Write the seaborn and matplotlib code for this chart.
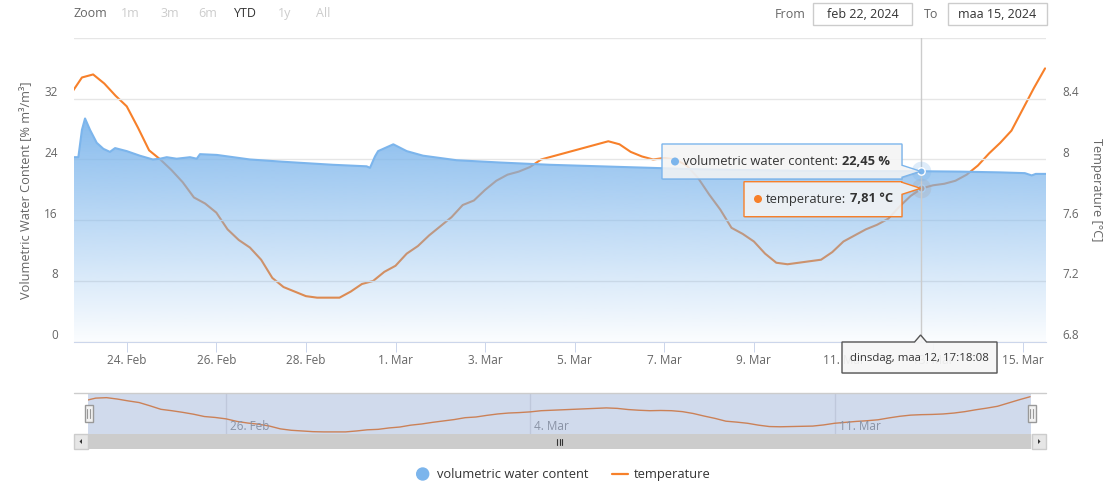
import numpy as np
import pandas as pd
import matplotlib
matplotlib.use("Agg")
import matplotlib.pyplot as plt
import matplotlib.dates as mdates
from matplotlib.patches import Rectangle, Polygon, Circle
from matplotlib.transforms import offset_copy
from matplotlib.colors import to_rgb
import seaborn as sns

# ---- data ----
# temperature, every 6 hours from 2024-02-22 18:00
temp_start = "2024-02-22 18:00"
temp_values = [
    8.43,
    8.54, 8.56, 8.50, 8.42,   # feb 23
    8.35, 8.21, 8.06, 8.00,   # feb 24
    7.93, 7.85, 7.75, 7.71,   # feb 25
    7.65, 7.54, 7.47, 7.42,   # feb 26
    7.34, 7.22, 7.16, 7.13,   # feb 27
    7.10, 7.09, 7.09, 7.09,   # feb 28
    7.13, 7.18, 7.20, 7.26,   # feb 29
    7.30, 7.38, 7.43, 7.50,   # mar 1
    7.56, 7.62, 7.70, 7.73,   # mar 2
    7.80, 7.86, 7.90, 7.92,   # mar 3
    7.95, 8.00, 8.02, 8.04,   # mar 4
    8.06, 8.08, 8.10, 8.12,   # mar 5
    8.10, 8.05, 8.02, 8.00,   # mar 6
    8.01, 8.00, 7.96, 7.88,   # mar 7
    7.77, 7.67, 7.55, 7.51,   # mar 8
    7.46, 7.38, 7.32, 7.31,   # mar 9
    7.32, 7.33, 7.34, 7.39,   # mar 10
    7.46, 7.50, 7.54, 7.57,   # mar 11
    7.61, 7.69, 7.76, 7.81,   # mar 12
    7.83, 7.84, 7.86, 7.90,   # mar 13
    7.96, 8.04, 8.11, 8.19,   # mar 14
    8.33, 8.47, 8.60,         # mar 15
]
temp_times = pd.date_range(temp_start, periods=len(temp_values), freq="6h")

vwc_times = pd.to_datetime([
    "2024-02-22 19:45", "2024-02-22 22:05", "2024-02-23 00:00", "2024-02-23 01:40",
    "2024-02-23 04:20", "2024-02-23 07:55", "2024-02-23 11:30", "2024-02-23 15:00",
    "2024-02-23 17:45", "2024-02-24 00:00", "2024-02-24 07:00", "2024-02-24 14:00",
    "2024-02-24 17:50", "2024-02-24 21:25", "2024-02-25 02:45", "2024-02-25 09:55",
    "2024-02-25 13:30", "2024-02-25 15:15", "2024-02-26 00:15", "2024-02-26 18:00",
    "2024-02-27 11:45", "2024-02-28 14:30", "2024-02-29 08:30", "2024-02-29 10:20",
    "2024-02-29 13:00", "2024-02-29 14:40", "2024-02-29 22:50", "2024-03-01 06:00",
    "2024-03-01 14:45", "2024-03-02 08:45", "2024-03-03 08:00", "2024-03-04 10:45",
    "2024-03-05 13:30", "2024-03-06 16:20", "2024-03-07 19:10", "2024-03-10 00:40",
    "2024-03-12 17:18", "2024-03-13 14:25", "2024-03-14 11:45", "2024-03-15 01:10",
    "2024-03-15 04:50", "2024-03-15 07:00", "2024-03-15 12:30",
])
vwc_values = [
    24.3, 24.3, 27.9, 29.4, 27.9, 26.2, 25.4, 25.0, 25.5, 25.1, 24.5, 24.0,
    24.1, 24.3, 24.1, 24.3, 24.1, 24.7, 24.6, 24.0, 23.7, 23.3, 23.1, 22.9,
    24.4, 25.1, 26.0, 25.1, 24.5, 23.9, 23.6, 23.3, 23.1, 22.9, 22.7, 22.5,
    22.45, 22.4, 22.3, 22.2, 21.9, 22.1, 22.1,
]

x_start = pd.Timestamp("2024-02-22 19:45")
x_end = pd.Timestamp("2024-03-15 12:30")
x_ticks = pd.date_range("2024-02-24", "2024-03-15", freq="2D")
nav_ticks = pd.to_datetime(["2024-02-26", "2024-03-04", "2024-03-11"])
vwc_ticks = [0, 8, 16, 24, 32, 40]
temp_ticks = [6.8, 7.2, 7.6, 8.0, 8.4, 8.8]

hover_time = pd.Timestamp("2024-03-12 17:18:08")
hover_vwc = 22.45
hover_temp = 7.81
hover_label = "dinsdag, maa 12, 17:18:08"

zoom_buttons = ["1m", "3m", "6m", "YTD", "1y", "All"]
from_date = "feb 22, 2024"
to_date = "maa 15, 2024"

# ---- style ----
BLUE = "#7cb5ec"
ORANGE = "#f7802a"
GRID = "#e6e6e6"
AXIS = "#ccd6eb"
LABEL = "#666666"
TEXT = "#333333"
FS_TICK = 8.5
FS_TEXT = 9.3

sns.set_theme(style="white")
plt.rcParams["font.family"] = ["Open Sans", "DejaVu Sans"]

W, H = 1117, 487
fig = plt.figure(figsize=(W / 100, H / 100), dpi=100)


def px_box(l, t, r, b):
    return [l / W, 1 - b / H, (r - l) / W, (b - t) / H]


# ---- main plot ----
ax = fig.add_axes(px_box(74, 38, 1046, 341.7))
ax2 = ax.twinx()
ax.set_zorder(2)
ax2.set_zorder(1)
ax.patch.set_visible(False)

sns.lineplot(x=temp_times, y=temp_values, ax=ax2, color=ORANGE, linewidth=1.5)
sns.lineplot(x=vwc_times, y=vwc_values, ax=ax, color=BLUE, linewidth=1.5, zorder=3)

# gradient area fill under water content
poly = ax.fill_between(vwc_times, 0, vwc_values, facecolor="none", edgecolor="none")
xnum = mdates.date2num(vwc_times)
grad = np.zeros((256, 1, 4))
grad[:, :, :3] = to_rgb(BLUE)
grad[:, 0, 3] = np.linspace(0.03, 0.92, 256)
im = ax.imshow(grad, extent=[xnum.min(), xnum.max(), 0, max(vwc_values)],
               origin="lower", aspect="auto", zorder=1, interpolation="bilinear")
im.set_clip_path(poly.get_paths()[0], transform=ax.transData)

ax.set_xlim(x_start, x_end)
ax.set_ylim(0, 40)
ax2.set_ylim(6.8, 8.8)
for a in (ax, ax2):
    a.set_xlabel("")
    a.set_ylabel("")
    for s in a.spines.values():
        s.set_visible(False)
ax.spines["bottom"].set_visible(True)
ax.spines["bottom"].set_color(AXIS)
ax.spines["bottom"].set_linewidth(0.8)

ax.set_xticks(x_ticks)
ax.set_xticklabels([f"{d.day}. {d.strftime('%b')}" for d in x_ticks])
ax.tick_params(axis="x", direction="out", length=7.2, width=0.72, color=AXIS,
               pad=1.5, labelsize=FS_TICK, labelcolor=LABEL, bottom=True)
ax.set_yticks(vwc_ticks)
ax.set_yticklabels([])
ax.tick_params(axis="y", length=0)
ax2.set_yticks(temp_ticks)
ax2.set_yticklabels([])
ax2.tick_params(axis="y", length=0)
ax.grid(axis="y", color=GRID, linewidth=1)
ax.grid(axis="x", visible=False)
ax2.grid(False)

for v in vwc_ticks[:-1]:
    ax.text(0, v, f"{v}", ha="right", va="center", fontsize=FS_TICK, color=LABEL,
            transform=offset_copy(ax.get_yaxis_transform(), fig=fig, x=-16, y=6, units="dots"))
for v in temp_ticks[:-1]:
    ax2.text(1, v, f"{v:g}", ha="left", va="center", fontsize=FS_TICK, color=LABEL,
             transform=offset_copy(ax2.get_yaxis_transform(), fig=fig, x=16, y=6, units="dots"))

fig.text(26 / W, 1 - 190 / H, "Volumetric Water Content [% m³/m³]", rotation=90,
         ha="center", va="center", fontsize=9.2, color=LABEL)
fig.text(1097 / W, 1 - 190 / H, "Temperature [°C]", rotation=270,
         ha="center", va="center", fontsize=9.2, color=LABEL)

# hover state
ax.axvline(hover_time, color="#cccccc", linewidth=1, zorder=4)
ax.scatter([hover_time], [hover_vwc], s=200, color=BLUE, alpha=0.25, linewidth=0, zorder=5)
ax.scatter([hover_time], [hover_vwc], s=28, color=BLUE, edgecolor="white", linewidth=1, zorder=6)
ax2.scatter([hover_time], [hover_temp], s=200, color=ORANGE, alpha=0.25, linewidth=0, zorder=5)
ax2.scatter([hover_time], [hover_temp], s=28, color=ORANGE, edgecolor="white", linewidth=1, zorder=6)

# ---- navigator ----
nav = fig.add_axes(px_box(88, 393, 1031, 434))
sns.lineplot(x=temp_times, y=temp_values, ax=nav, color=ORANGE, linewidth=1)
nav.set_xlim(x_start, x_end)
nav.set_ylim(7.0, 8.76)
nav.set_xlabel("")
nav.set_ylabel("")
nav.set_xticks([])
nav.set_yticks([])
for s in nav.spines.values():
    s.set_visible(False)
for d in nav_ticks:
    nav.axvline(d, color=GRID, linewidth=1, zorder=1)
    nav.text(d, 0.19, f"{d.day}. {d.strftime('%b')}", ha="left", va="center",
             fontsize=FS_TICK, color="#999999", zorder=2,
             transform=offset_copy(nav.get_xaxis_transform(), fig=fig, x=4, y=0, units="dots"))
nav.axvspan(x_start, x_end, color=(102 / 255, 133 / 255, 194 / 255), alpha=0.3, linewidth=0, zorder=3)

# ---- overlay in pixel coordinates ----
ov = fig.add_axes([0, 0, 1, 1])
ov.set_xlim(0, W)
ov.set_ylim(H, 0)
ov.axis("off")
ov.set_zorder(10)
ov.patch.set_visible(False)
renderer = fig.canvas.get_renderer()


def to_px(a, t, v):
    dx, dy = a.transData.transform((mdates.date2num(t), v))
    return dx, H - dy


bx, by = to_px(ax, hover_time, hover_vwc)
ox, oy = to_px(ax2, hover_time, hover_temp)
face = (0.97, 0.97, 0.97, 0.85)


def callout(l, t, r, b, px, py, ec):
    pts = [(l, t), (r, t), (r, py - 6), (px, py), (r, py + 6), (r, b), (l, b)]
    ov.add_patch(Polygon([(x + 1, y + 1) for x, y in pts], closed=True, fc=(0, 0, 0, 0.06), ec="none"))
    ov.add_patch(Polygon(pts, closed=True, fc=face, ec=ec, lw=1))


def rich(x, y, label, value, color):
    ov.add_patch(Circle((x - 8, y), 3.3, color=color))
    t = ov.text(x, y, label, ha="left", va="center", fontsize=FS_TEXT, color=TEXT)
    bb = t.get_window_extent(renderer)
    ov.text(bb.x1 + 3.5, y, value, ha="left", va="center", fontsize=FS_TEXT,
            color=TEXT, fontweight="bold")


callout(662, 144, 902, 179, bx, by, BLUE)
rich(683, 161.5, "volumetric water content:", f"{hover_vwc:.2f} %".replace(".", ","), BLUE)
callout(744, 181.7, 902, 216.7, ox, oy, ORANGE)
rich(766, 199, "temperature:", f"{hover_temp:.2f} °C".replace(".", ","), ORANGE)

# date label under the crosshair
hx = bx
date_pts = [(842, 342), (hx - 6, 342), (hx, 335), (hx + 6, 342), (997, 342), (997, 373), (842, 373)]
ov.add_patch(Polygon([(x + 1, y + 1) for x, y in date_pts], closed=True, fc=(0, 0, 0, 0.08), ec="none"))
ov.add_patch(Polygon(date_pts, closed=True, fc=(0.97, 0.97, 0.97, 0.93), ec="#555555", lw=1))
ov.text(919.5, 358, hover_label, ha="center", va="center", fontsize=8.2, color=TEXT)

# range selector
ov.text(74, 13.5, "Zoom", ha="left", va="center", fontsize=9, color=LABEL)
for label, cx in zip(zoom_buttons, [130, 169.5, 208, 245.5, 285, 323]):
    ov.text(cx, 13.5, label, ha="center", va="center", fontsize=9,
            color=TEXT if label == "YTD" else "#cccccc")
ov.text(790, 14, "From", ha="center", va="center", fontsize=9, color=LABEL)
ov.text(931.5, 14, "To", ha="center", va="center", fontsize=9, color=LABEL)
ov.add_patch(Rectangle((813.3, 3.3), 98.4, 21.7, fc="white", ec="#cccccc", lw=1))
ov.add_patch(Rectangle((948.3, 3.3), 98.4, 21.7, fc="white", ec="#cccccc", lw=1))
ov.text(862.5, 14, from_date, ha="center", va="center", fontsize=9, color=TEXT)
ov.text(997.5, 14, to_date, ha="center", va="center", fontsize=9, color=TEXT)

# navigator outline and handles
ov.plot([74, 1046], [393, 393], color="#cccccc", lw=1)
for hxp in (88.5, 1031.5):
    ov.add_patch(Rectangle((hxp - 4, 405), 8, 16.5, fc="#f2f2f2", ec="#999999", lw=1))
    ov.plot([hxp - 1.3, hxp - 1.3], [409, 417.5], color="#999999", lw=0.8)
    ov.plot([hxp + 1.3, hxp + 1.3], [409, 417.5], color="#999999", lw=0.8)

# scrollbar
ov.add_patch(Rectangle((74, 434), 972, 15, fc="#f2f2f2", ec="none"))
ov.add_patch(Rectangle((88, 434), 943, 15, fc="#cccccc", ec="none"))
ov.add_patch(Rectangle((74, 434), 14, 15, fc="#e6e6e6", ec="#cccccc", lw=1))
ov.add_patch(Rectangle((1032, 434), 14, 15, fc="#e6e6e6", ec="#cccccc", lw=1))
ov.add_patch(Polygon([(79.5, 441.5), (82, 439), (82, 444)], closed=True, fc=TEXT, ec="none"))
ov.add_patch(Polygon([(1040.5, 441.5), (1038, 439), (1038, 444)], closed=True, fc=TEXT, ec="none"))
for rx in (557, 559.5, 562):
    ov.plot([rx, rx], [438.5, 444.5], color=TEXT, lw=0.8)

# legend
ov.add_patch(Circle((422.7, 474), 6, color=BLUE))
ov.text(437, 474.5, "volumetric water content", ha="left", va="center", fontsize=FS_TEXT, color=TEXT)
ov.plot([612, 628], [474, 474], color=ORANGE, lw=1.6)
ov.text(634, 474.5, "temperature", ha="left", va="center", fontsize=FS_TEXT, color=TEXT)

fig.savefig("out.png", dpi=100)
